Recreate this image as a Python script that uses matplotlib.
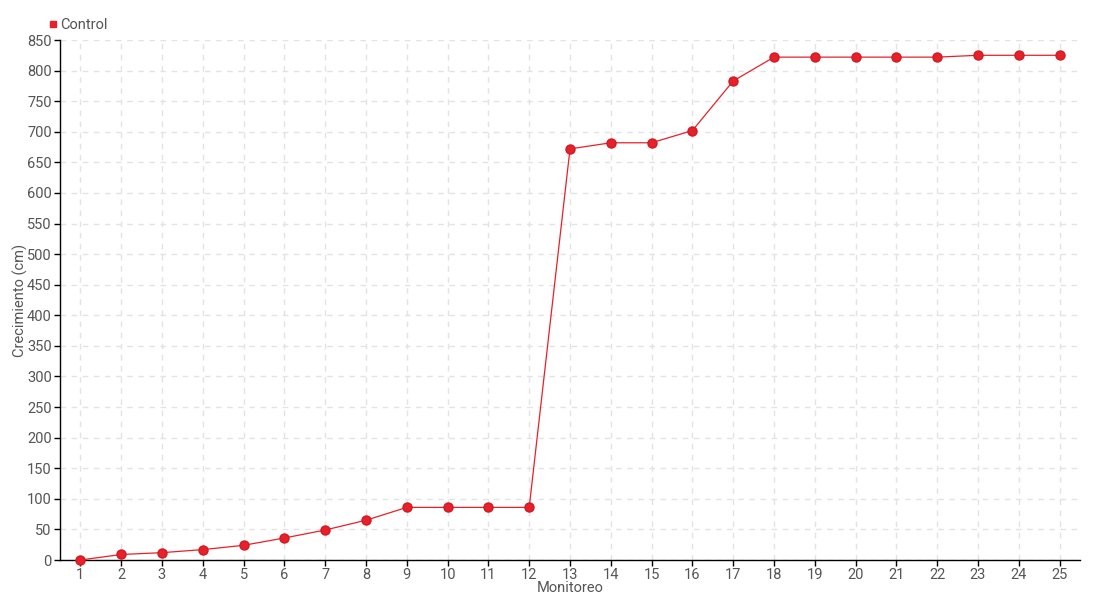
import numpy as np
import matplotlib
matplotlib.use('Agg')
import matplotlib.pyplot as plt
from matplotlib.lines import Line2D

plt.rcParams['font.family'] = ['Roboto', 'DejaVu Sans']

monitoreo = list(range(1, 26))
control = [0, 9, 12, 17, 24, 36, 49, 65, 86, 86, 86, 86,
           672, 682, 682, 702, 783, 822, 822, 822, 822, 822, 825, 825, 825]
yticks = list(range(0, 851, 50))

red = '#e8202a'
txt = '#555555'

fig = plt.figure(figsize=(11, 6), dpi=100)
ax = fig.add_axes([60/1100, 40/600, 1020/1100, 520/600])

ax.plot(monitoreo, control, color=red, lw=0.9, marker='o', ms=6.5,
        mfc=red, mec='#d01a24', zorder=3, clip_on=False)

ax.set_xlim(0.5, 25.5)
ax.set_ylim(0, 850)
ax.set_xticks(monitoreo)
ax.set_yticks(yticks)
ax.tick_params(axis='both', colors='black', labelcolor=txt, labelsize=10.5,
               length=4, width=1, pad=2)
ax.grid(True, color='#e3e3e3', ls=(0, (4, 4)), lw=1)
ax.set_axisbelow(True)
for s in ['top', 'right']:
    ax.spines[s].set_visible(False)
for s in ['left', 'bottom']:
    ax.spines[s].set_color('black')
    ax.spines[s].set_linewidth(1)

ax.set_xlabel('Monitoreo', color=txt, fontsize=10.5, labelpad=-1)
ax.set_ylabel('Crecimiento (cm)', color=txt, fontsize=10.5, labelpad=-1)

h = Line2D([], [], color=red, marker='s', ls='none', ms=4.5)
fig.legend([h], ['Control'], loc='upper left', bbox_to_anchor=(41/1100, 1 - 12/600),
           frameon=False, fontsize=10.5, handletextpad=0.1, handlelength=0.8,
           labelcolor=txt, borderaxespad=0)

fig.savefig('out.png', dpi=100)
